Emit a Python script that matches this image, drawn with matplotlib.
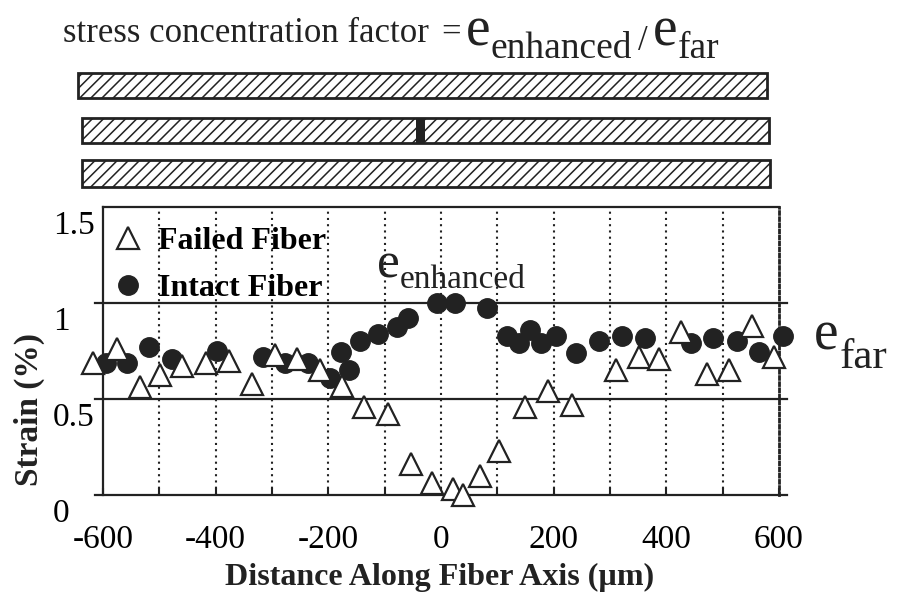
import matplotlib
matplotlib.use("Agg")
import matplotlib.pyplot as plt
import matplotlib.transforms as mtransforms
from matplotlib.patches import Rectangle
from matplotlib.lines import Line2D

plt.rcParams["font.family"] = ["Liberation Serif", "DejaVu Serif"]
plt.rcParams["hatch.linewidth"] = 1.1

INK = "#222222"

# Failed fiber (open triangles): position along fiber (um) and strain (%)
failed_x = [-618, -575, -535, -498, -460, -417, -376, -335, -295, -256,
            -215, -176, -137, -94, -53, -16, 21, 39, 69, 103,
            149, 190, 233, 311, 352, 387, 426, 472, 511, 552, 591]
failed_y = [0.69, 0.76, 0.56, 0.625, 0.67, 0.69, 0.70, 0.58, 0.73, 0.71,
            0.65, 0.57, 0.46, 0.42, 0.16, 0.06, 0.03, 0.00, 0.10, 0.23,
            0.46, 0.54, 0.47, 0.65, 0.72, 0.71, 0.85, 0.63, 0.65, 0.88, 0.72]

# Intact neighbouring fiber (filled circles)
intact_x = [-595, -557, -518, -477, -398, -316, -277, -236, -197, -178,
            -163, -144, -112, -78, -59, -7, 25, 82, 118, 139,
            158, 178, 204, 240, 281, 321, 362, 444, 483, 525, 565, 607]
intact_y = [0.69, 0.69, 0.77, 0.71, 0.75, 0.72, 0.69, 0.69, 0.61, 0.745,
            0.65, 0.80, 0.84, 0.875, 0.92, 1.00, 1.00, 0.975, 0.83, 0.79,
            0.86, 0.79, 0.83, 0.74, 0.80, 0.83, 0.82, 0.79, 0.82, 0.80, 0.745, 0.83]

x_ticks = [-600, -400, -200, 0, 200, 400, 600]
x_grid = [-500, -400, -300, -200, -100, 0, 100, 200, 300, 400, 500]
y_ticks = [0, 0.5, 1.0, 1.5]
y_tick_labels = ["0", "0.5", "1", "1.5"]
series_labels = ["Failed Fiber", "Intact Fiber"]

W, H = 897, 595
fig = plt.figure(figsize=(W / 100, H / 100), dpi=100)
fig.patch.set_facecolor("white")
renderer = fig.canvas.get_renderer()


def fx(px):
    return px / W


def fy(py):
    return 1 - py / H


def text_run(x, pieces):
    """Write text pieces one after another; each piece is
    (string, fontsize, baseline_y_px, gap_before_px)."""
    for s, size, base, gap in pieces:
        x += gap
        t = fig.text(fx(x), fy(base), s, fontsize=size, va="baseline",
                     ha="left", color=INK)
        x = t.get_window_extent(renderer=renderer).x1


# --- schematic of the three fibers (middle one broken) ---
sk = fig.add_axes([0, 0, 1, 1])
sk.set_xlim(0, W)
sk.set_ylim(H, 0)
sk.axis("off")
sk.patch.set_visible(False)
fiber_rows = [(78, 767, 73, 98), (82, 769, 118, 143), (82, 770, 160, 187)]
for x0, x1, y0, y1 in fiber_rows:
    sk.add_patch(Rectangle((x0, y0), x1 - x0, y1 - y0, facecolor="white",
                           edgecolor=INK, hatch="///", lw=2.0))
brk = fiber_rows[1]
sk.add_patch(Rectangle((416, brk[2]), 9, brk[3] - brk[2], facecolor=INK,
                       edgecolor=INK, lw=0))

# --- strain plot ---
ax = fig.add_axes([fx(103), fy(495), (779 - 103) / W, (495 - 207) / H])
ax.set_xlim(-600, 600)
ax.set_ylim(0, 1.5)

ax.vlines(x_grid, 0, 1.5, colors=INK, linestyles=(0, (1, 2)), lw=1.5, zorder=1)
for yv in [0, 0.5, 1.0]:
    ax.axhline(yv, xmin=-0.012, xmax=1.012, color=INK, lw=1.6, clip_on=False, zorder=1)

for side in ["left", "top"]:
    ax.spines[side].set_linewidth(1.6)
    ax.spines[side].set_color(INK)
ax.spines["bottom"].set_visible(False)
ax.spines["right"].set_linestyle((0, (1, 1.2)))
ax.spines["right"].set_linewidth(2.0)
ax.spines["right"].set_color(INK)

ax.plot(intact_x, intact_y, ls="none", marker="o", ms=14, mfc=INK, mec=INK,
        clip_on=False, zorder=3)
ax.plot(failed_x, failed_y, ls="none", marker="^", ms=16, mfc="white", mec=INK,
        mew=1.6, clip_on=False, zorder=4)

ax.set_xticks(x_ticks)
ax.set_xticks(x_grid, minor=True)
ax.set_xticklabels([str(v) for v in x_ticks])
ax.tick_params(axis="x", which="both", direction="in", length=5, width=1.5,
               color=INK, labelsize=24, pad=21)
ax.set_yticks(y_ticks)
ax.set_yticklabels(y_tick_labels)
ax.tick_params(axis="y", length=0, labelsize=24, pad=36)
shift = mtransforms.ScaledTranslation(0, -3 / 100, fig.dpi_scale_trans)
for lbl in ax.get_yticklabels():
    lbl.set_horizontalalignment("left")
    lbl.set_verticalalignment("top")
    lbl.set_transform(lbl.get_transform() + shift)

handles = [
    Line2D([], [], ls="none", marker="^", ms=16, mfc="white", mec=INK, mew=1.6),
    Line2D([], [], ls="none", marker="o", ms=14, mfc=INK, mec=INK),
]
ax.legend(handles, series_labels, loc="upper left",
          bbox_to_anchor=((112 - 103) / 676, (495 - 227) / 288),
          frameon=False, prop={"weight": "bold", "size": 23},
          handlelength=1.0, handletextpad=0.45, labelspacing=0.55,
          borderpad=0, borderaxespad=0)

fig.text(fx(29), fy(410), "Strain (%)", rotation=90, ha="center", va="center",
         fontsize=24, fontweight="bold", color=INK)
fig.text(fx(440), fy(577), "Distance Along Fiber Axis (\u00b5m)", ha="center",
         va="center", fontsize=23, fontweight="bold", color=INK)

# strain annotations
text_run(377, [("e", 37, 278, 0), ("enhanced", 24, 288, 0)])
text_run(814, [("e", 40, 350, 0), ("far", 31, 368, 1)])

# definition line
text_run(63, [("stress concentration factor", 25, 42, 0),
              ("=", 25, 42, 12),
              ("e", 40, 45, 5), ("enhanced", 27, 58, 0),
              ("/", 25, 50, 6),
              ("e", 40, 45, 6), ("far", 27, 58, 0)])

fig.savefig("out.png", dpi=100, facecolor="white")
